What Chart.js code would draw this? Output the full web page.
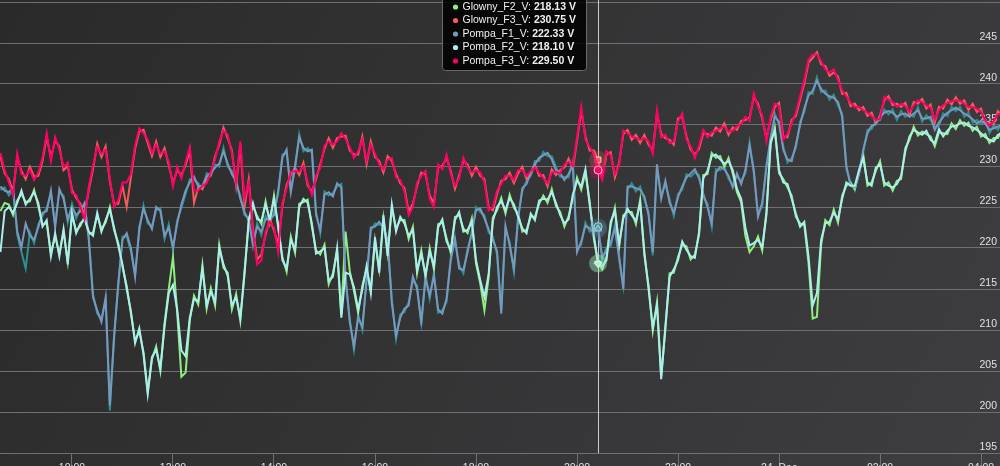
<!DOCTYPE html>
<html><head><meta charset="utf-8">
<script src="https://cdn.jsdelivr.net/npm/chart.js@4.4.1/dist/chart.umd.min.js"></script>
<style>
html,body{margin:0;padding:0;overflow:hidden;background:#333335;width:1000px;height:466px}
canvas{display:block}
</style>
</head><body>
<canvas id="c" width="1000" height="490"></canvas>
<script>
// ---- data ----
const startTime = '08:35';      // first sample
const stepMinutes = 5;          // sample interval
const seriesNames = ['Glowny_F1_V','Glowny_F2_V','Glowny_F3_V','Pompa_F1_V','Pompa_F2_V','Pompa_F3_V'];
const seriesColors = ['#2b908f','#90ee7e','#f45b5b','#7798BF','#aaeeee','#ff0066'];

const glownyF1 = [
 227.1,227.4,226.4,227,221.6,219.5,217.5,221.9,220.6,222.9,
 223.9,224.9,226.6,222.9,226.8,226.4,223.1,225.4,223.6,224.9,
 225.1,221.4,214.4,212,211.4,213.6,200.2,209.4,215.3,221.4,
 221.4,219.6,216.9,222.1,225.2,223,222.7,224.6,224.9,221.1,
 222.9,219.7,223.4,224.9,226.6,228.4,228.3,227.9,227.2,229.1,
 228.8,230.2,229.9,232.2,229.9,229.4,227.8,226.4,224,223.7,
 220.2,223,221.6,223.9,223.1,224.4,226.6,231.4,231.6,227.2,
 229.6,233.9,231.8,232.2,231.6,224.4,221.8,226.9,226.4,226.7,
 227.5,227.8,216.1,211.4,207.6,211.9,210,216.4,222.1,223,
 222.8,222.9,220.6,213.7,208.9,211.9,212.2,213.4,216.1,215.4,
 210.6,216.7,213.8,217,212.1,212.4,213.4,218.9,220.8,217.9,
 216.9,219.9,221.6,225,224.4,224,221.9,221.4,219.2,212.4,
 222.3,220.7,217.1,223.9,226.9,228.2,228.8,230.6,230.6,231.7,
 231.2,231.2,229.9,228.7,228.7,228.6,230.6,219.9,220.4,223.1,
 222,222.3,222.6,218.5,220.1,220.2,222.8,218.6,215.4,227.1,
 227.9,226.9,227.5,225.9,224.4,219.1,229.8,226.4,227.8,225.9,
 223.9,226.6,227.1,229,228.7,229.2,228.9,226.2,225.4,222.6,
 229.6,229.5,230,228.4,227.8,228.7,228.2,229.1,232.9,229.1,
 224.2,225.1,230.2,233.1,236.4,235,232.4,230.4,231,232.2,
 235.4,236.6,239,238.8,240.8,239,239.2,238.1,238.7,237.4,
 236.4,229.6,228,227,229.4,231.6,234.4,234.5,235.5,235.6,
 236.9,236.3,236.9,235.6,236.7,236,236.4,236,237.2,235.4,
 236.2,235.6,234.8,234.9,236.4,236.1,237.2,236.7,237.2,236,
 236.5,235.3,235.6,235.1,235.6,234,235,234.4,235.4,234.6];

const glownyF2 = [
 224.5,225.5,225.3,224,225.8,226.6,225.6,225.7,227.1,225.1,
 222.9,223,219.4,221.4,219.3,222,218.3,224,222.1,222.7,
 223.8,221.7,221.9,224,222.3,223.1,225,222.2,220.6,217.7,
 215.4,212,208.7,209.8,207.3,202.5,206.4,208,205,210.8,
 215,218.9,212.1,204.3,204.8,211.2,214.2,213.1,217.9,212.6,
 215.1,213,220.4,217.6,217,212.5,214.4,211.1,217.2,223.1,
 225.1,223.9,222.9,225.7,223.1,226.4,222.4,218.9,217.1,221.4,
 219.4,225.4,225.6,225.9,222.6,219.7,219.2,220.4,215.6,216.9,
 219.6,211.9,222,217.2,214.8,212.1,215.4,217.4,214.9,220.9,
 217.4,223.6,219.4,224.9,222.4,223.4,223.4,221.1,222.6,216.9,
 219.7,216.4,220,217.4,222.9,223.1,221.2,219.4,223.8,224,
 222.4,221.8,223.6,218.1,215.7,212.4,216.4,223.7,224.6,226.1,
 224.2,226.5,224.9,224.2,222,222.2,223.8,223.8,225.4,226.4,
 225.5,227.2,225.1,224.4,222.6,223.9,226.1,228.6,227.1,229.2,
 225.7,221.1,218.13,217.4,218.9,222.8,224.9,220.1,224,224.4,
 224.4,222.9,225.9,219.1,215.4,209.9,213.4,204.4,210.1,216.9,
 217,218.9,220.4,220.2,218.6,219.2,221.6,228.9,229,231.6,
 231,231.2,229.9,231,229.1,226.8,225.6,221.5,219.5,220.2,
 221.4,219.7,224.4,232.6,234.7,229.1,228.4,227.4,226.4,223.8,
 223,222.8,218.2,211.4,211.6,220.4,223.4,222.8,224.7,223.1,
 226.4,227.6,228,227.2,229.1,231.4,227.6,228,229.4,230.6,
 227.6,228,227,228.2,228.4,232.2,233.2,234.8,233.7,234.2,
 233.9,233.6,232.4,234.1,234,233.9,235.2,234.5,235.6,234.9,
 235.3,234.3,234.8,233.6,233.9,232.8,233.4,233.4,234.4,233.6];

const glownyF3 = [
 231.2,229.1,228.4,226.9,231.1,229.4,228.4,229.9,228.7,228.8,
 230.6,233.6,231,233.1,232.4,229.5,230,227.1,226.1,225.4,
 224,227.1,229.6,232.7,231.1,232.4,228.1,225.4,225.4,227.6,
 225,228.6,232.1,234.2,234.4,232.8,231.2,233,231.1,232.2,
 230.1,227.9,229.5,228.9,230.1,231.9,225.5,227.4,227.2,228.3,
 228.9,231.2,232.6,234.7,233.4,231.9,227.6,232.6,225,228.4,
 222.4,218.6,219.2,221.6,223.6,222.1,220.5,225.1,227.7,228.9,
 229.8,228.9,230.4,227.6,226.9,228.4,230.2,232.1,233.4,232.2,
 233.4,233.6,233.7,231.9,231.4,231.4,233.6,230.2,233,231.1,
 230.6,229.2,231.2,230.6,229,227.9,227.3,224.4,225.4,227.6,
 229.2,229,226.4,225.4,229.8,230,231,229.4,227.2,228.9,
 230.6,230.2,228.8,229.9,228.8,228.4,225,224.6,226.6,228.2,
 228.4,229.2,227.9,229.1,229.9,228.4,229,230.2,228.8,228.9,
 227.5,229.6,228.9,229.5,229.8,230.9,229.6,233.1,236.8,233.6,
 231.9,231.9,230.75,228.7,231.4,231.7,228.6,230.4,233.9,234.4,
 233.2,233.8,232.8,233.8,232.6,231.9,236.4,233.9,233.4,233.2,
 232.6,235.8,236,233.6,232,231.4,232.1,234,233.9,233.7,
 234.7,234.2,235.2,233.8,234.7,234.4,235.5,235.6,235.9,238.4,
 237.6,235.8,233.4,235.6,237.2,237.7,233.6,233.5,235.6,236.1,
 238.1,240.1,242.6,243.2,243.9,242.4,242.2,241,241.4,240.9,
 238.8,238.9,237.3,237.6,236.8,237.2,236.1,236.5,235.2,236.2,
 238,238.5,237.4,237.6,237.2,237.7,236.2,237.8,237.6,238.2,
 237,237.5,235.3,237.2,237,238.1,237.5,238.4,237.6,238,
 236.8,237.6,236.6,237,235.2,235.3,235.1,236.7,236.1,236.4];

const pompaF1 = [
 227.5,227,226.8,227.4,222,220.1,223,221.5,221,222.5,
 224.3,224.5,227,222.5,227.2,226,223.5,225,224,224.5,
 225.5,221,214,212.4,211,214,200.8,209,215.7,221,
 221.8,220,216.5,222.5,224.8,223.4,222.3,225,224.5,221.5,
 222.5,220.1,223,225.3,227,228,228.7,227.5,227.6,228.7,
 229.2,229.8,230.3,231.8,230.3,229,228.2,226,224.4,223.3,
 220.6,222.6,222,223.5,223.5,224,227,231,232,226.8,
 230,233.5,232.2,231.8,232,224,222.2,226.5,226.8,226.3,
 227.9,227.4,216.5,211,208,211.5,210.4,216,222.5,222.6,
 223.2,222.5,221,213.3,209.3,211.5,212.6,213,216.5,215,
 211,216.3,214.2,216.6,212.5,212,213.8,218.5,221.2,217.5,
 217.3,219.5,222,224.6,224.8,223.6,222.3,221,219.6,212,
 222.7,220.3,217.5,223.5,227.3,227.8,229.2,230.2,231,231.3,
 231.6,230.8,229.5,229.1,228.3,229,230.2,219.5,220.8,222.7,
 222.4,221.9,222.33,218.9,219.7,220.6,222.4,219,215,227.5,
 227.5,227.3,227.1,226.3,224,219.5,230.2,226,228.2,225.5,
 224.3,226.2,227.5,228.6,229.1,229.6,228.5,226.6,225,223,
 229.2,229.9,229.6,228.8,227.4,229.1,227.8,229.5,232.5,229.5,
 223.8,225.5,229.8,233.5,236,235.4,232,230.8,230.6,232.6,
 235,237,238.6,239.2,240.4,239.4,238.8,238.5,238.3,237.8,
 236,230,227.6,227.4,229,232,234,234.9,235.1,236,
 236.5,236.7,236.5,236,236.3,236.4,236,236.4,236.8,235.8,
 235.8,236,234.4,235.3,236,236.5,236.8,237.1,236.8,236.4,
 236.1,235.7,235.2,235.5,235.2,234.4,234.6,234.8,235,235];

const pompaF2 = [
 219.5,224.5,225,224.3,225.5,227,225.3,226,226.8,225.5,
 222.6,223.4,219,221.8,219,222.3,218,224.3,221.8,223,
 223.5,222,221.5,224.3,222,223.4,224.7,222.5,220.3,218,
 215,212.3,208.4,210.2,207,202.2,206.7,207.6,205.3,210.5,
 214.5,215.5,212.5,207.5,206.8,211.5,213.8,213.5,217.5,213,
 214.7,213.4,220,218,216.6,213,214,211.5,216.8,223.5,
 225.5,223.5,223.3,225.3,223.5,226,222.8,218.5,217.5,221,
 219.8,225,226,225.5,223,219.3,219.6,220,216,216.5,
 220,211.5,217,216.8,215.2,212.5,215,217.8,214.5,221.3,
 217,224,219,225.3,222,223.8,223,221.5,222.2,217.3,
 219.3,216.8,219.6,217.8,222.5,223.5,220.8,219.8,223.4,224.4,
 222,222.2,223.2,218.5,216.1,214,216.8,223.3,225,225.7,
 224.6,226.1,225.3,223.8,222.4,221.8,224.2,223.4,225.8,226,
 225.9,226.8,225.5,224,223,223.5,226.5,228.2,227.5,229.6,
 225.3,221.5,218.1,217.8,218.5,223.2,224.5,220.5,223.6,224.8,
 224,223.3,225.5,219.5,215,210.3,213,204,210.5,216.5,
 217.4,218.5,220.8,219.8,219,218.8,222,228.5,229.4,231.2,
 231.4,230.8,230.3,230.6,229.5,227.2,226,222.5,220.3,220.6,
 221,220.1,224,233,234.3,229.5,228,227.8,226,224.2,
 222.6,223.2,219,213,214.5,221,223,223.2,224.3,223.5,
 226,228,227.6,227.6,229.5,231,228,227.6,229.8,230.2,
 228,227.6,227.4,227.8,228.8,231.8,233.6,234.4,234.1,233.8,
 234.3,233.2,232.8,234.5,233.6,234.3,234.8,234.9,235.2,235.3,
 234.9,234.7,234.4,234,233.5,233.2,233,233.8,234,234];

const pompaF3 = [
 231.6,229.5,228,226.5,231.5,229,228.8,229.5,228.3,229.2,
 231,234,230.6,233.5,232,229.9,230.4,226.7,226.5,225,
 223.5,227.5,230,232.3,231.5,232,228.5,225,225.8,228,
 228,229,232.5,234.6,234,233.2,231.6,232.6,231.5,231.8,
 230.5,227.5,229.9,228.5,230.5,232.3,227,227,227.6,227.9,
 229.3,230.8,233,234.3,233.8,231.5,228,233,226,228,
 222,218,218.5,222,223.2,222.5,219.5,225.5,227.3,229.3,
 229.4,229.3,230,228,226.5,228.8,229.8,232.5,233,232.6,
 233,234,233.3,232.3,231,231.8,233.2,230.6,232.6,231.5,
 230.2,229.6,230.8,231,228.6,228.3,226.9,224,225,228,
 228.8,229.4,226,225,230.2,229.6,231.4,229,227.6,228.5,
 231,229.8,229.2,229.5,229.2,228,224.6,225,227,227.8,
 228.8,228.8,228.3,229.5,229.5,228.8,229.4,229.8,229.2,228.5,
 227.9,229.2,229.3,229.1,230.2,230.5,230,233.5,237.2,233.2,
 232.3,231.5,229.5,228.3,231.8,231.3,229,230,234.3,234,
 233.6,233.4,233.2,233.4,233,231.5,236.8,233.5,233.8,232.8,
 233,235.4,236.4,233.2,232.4,231,232.5,234.4,233.5,234.1,
 234.3,234.6,234.8,234.2,234.3,234.8,235.1,236,235.5,238.8,
 237.2,236.2,233,236,237.6,237.3,233.2,233.9,235.2,236.5,
 238.5,240.5,243,243.6,243.6,242.8,241.8,241.4,241.8,240.5,
 239.2,238.5,237.7,237.2,237.2,236.8,236.5,236.1,235.6,235.8,
 238.4,238.1,237.8,237.2,237.6,237.3,236.6,237.4,238,237.8,
 237.4,237.1,235.7,236.8,237.4,237.7,237.9,238,238,237.6,
 237.2,237.2,237,236.6,235.6,234.9,235.5,236.3,236.5,236];

const tooltipSeries = ['Glowny_F2_V','Glowny_F3_V','Pompa_F1_V','Pompa_F2_V','Pompa_F3_V'];
const valueSuffix = ' V';
const hoverIndex = 142;  // sample under the crosshair (20:25)

const xTickTimes  = ['10:00','12:00','14:00','16:00','18:00','20:00','22:00','24:00','26:00','28:00'];
const xTickLabels = ['10:00','12:00','14:00','16:00','18:00','20:00','22:00','24. Dec','02:00','04:00'];
const yTickValues = [195,200,205,210,215,220,225,230,235,240,245,250];
const yTickLabels = ['195','200','205','210','215','220','225','230','235','240','245',''];
const viewStart = '08:34';   // + 0.5 min
const viewEnd   = '28:22';   // + 0.5 min

// ---- helpers ----
function toMinutes(s){ const p = s.split(':'); return Number(p[0])*60 + Number(p[1]) - 600; }
const t0 = toMinutes(startTime);
const times = pompaF3.map((_, i) => t0 + i * stepMinutes);
const seriesData = [glownyF1, glownyF2, glownyF3, pompaF1, pompaF2, pompaF3];
const pointStyles = ['circle','rectRot','rect','triangle','triangle','circle'];
const pointRotations = [0,0,0,0,180,0];
const FONT = "'Liberation Sans', Arial, Helvetica, sans-serif";

const datasets = seriesData.map((arr, i) => ({
  label: seriesNames[i],
  data: arr.map((v, j) => ({x: times[j], y: v})),
  borderColor: seriesColors[i],
  backgroundColor: seriesColors[i],
  borderWidth: 2,
  tension: 0,
  fill: false,
  pointRadius: ctx => ctx.dataIndex === hoverIndex ? 4 : 0,
  pointHoverRadius: 0,
  pointStyle: pointStyles[i],
  pointRotation: pointRotations[i],
  pointBackgroundColor: seriesColors[i],
  pointBorderColor: '#ffffff',
  pointBorderWidth: 1,
  order: seriesData.length - 1 - i
}));

const bgPlugin = {
  id: 'bg',
  beforeDraw(chart){
    const c = chart.ctx;
    const g = c.createLinearGradient(0, 0, 1000, 466);
    g.addColorStop(0, '#2a2a2b');
    g.addColorStop(1, '#3e3e40');
    c.save(); c.fillStyle = g; c.fillRect(0, 0, chart.width, chart.height); c.restore();
  }
};

const crossPlugin = {
  id: 'cross',
  beforeDatasetsDraw(chart){
    const c = chart.ctx, xs = chart.scales.x;
    const x = Math.round(xs.getPixelForValue(times[hoverIndex])) + 0.5;
    c.save(); c.strokeStyle = '#cccccc'; c.lineWidth = 1;
    c.beginPath(); c.moveTo(x, 0); c.lineTo(x, chart.chartArea.bottom); c.stroke(); c.restore();
  },
  afterDatasetsDraw(chart){
    const c = chart.ctx;
    c.save();
    chart.data.datasets.forEach((ds, i) => {
      const el = chart.getDatasetMeta(i).data[hoverIndex];
      if (!el) return;
      c.globalAlpha = 0.25; c.fillStyle = seriesColors[i];
      c.beginPath(); c.arc(el.x, el.y, 9, 0, Math.PI * 2); c.fill();
    });
    c.restore();
  }
};

const tipPlugin = {
  id: 'tip',
  afterDraw(chart){
    const c = chart.ctx, xs = chart.scales.x;
    const cx = xs.getPixelForValue(times[hoverIndex]);
    const right = Math.round(cx) - 11.5, left = right - 144;
    const top = -20, bottom = 70.5;
    c.save();
    c.fillStyle = 'rgba(0,0,0,0.85)';
    c.strokeStyle = '#5f6f6f'; c.lineWidth = 1;
    c.beginPath();
    if (c.roundRect) c.roundRect(left, top, right - left, bottom - top, 3); else c.rect(left, top, right - left, bottom - top);
    c.fill(); c.stroke();
    c.textBaseline = 'middle';
    tooltipSeries.forEach((name, n) => {
      const i = seriesNames.indexOf(name);
      const y = 7 + n * 13.5;
      c.fillStyle = seriesColors[i];
      c.beginPath(); c.arc(left + 13, y, 2.6, 0, Math.PI * 2); c.fill();
      c.fillStyle = '#F0F0F0';
      c.font = '10.5px ' + FONT;
      const lbl = name + ': ';
      c.fillText(lbl, left + 20, y);
      const w = c.measureText(lbl).width;
      c.font = 'bold 10.5px ' + FONT;
      c.fillText(seriesData[i][hoverIndex].toFixed(2) + valueSuffix, left + 20 + w, y);
    });
    c.restore();
  }
};

new Chart(document.getElementById('c'), {
  type: 'line',
  data: { datasets },
  options: {
    responsive: false,
    animation: false,
    devicePixelRatio: 1,
    events: [],
    layout: { padding: { top: 2, left: 0, right: 0, bottom: 0 } },
    plugins: { legend: { display: false }, tooltip: { enabled: false } },
    scales: {
      x: {
        type: 'linear',
        min: toMinutes(viewStart) + 0.5,
        max: toMinutes(viewEnd) + 0.5,
        afterBuildTicks: s => { s.ticks = xTickTimes.map(t => ({ value: toMinutes(t) })); },
        afterFit: s => { s.height = 37; s.paddingLeft = 0; s.paddingRight = 0; },
        grid: { display: true, drawOnChartArea: false, drawTicks: true, tickLength: 12, color: '#707073', lineWidth: 1 },
        border: { display: true, color: '#707073', width: 1 },
        ticks: {
          autoSkip: false, maxRotation: 0, padding: -3,
          color: '#E0E0E3', font: { family: FONT, size: 10.5 },
          callback: (v) => { const k = xTickTimes.findIndex(t => toMinutes(t) === v); return k >= 0 ? xTickLabels[k] : ''; }
        }
      },
      y: {
        type: 'linear',
        position: 'right',
        min: yTickValues[0],
        max: yTickValues[yTickValues.length - 1],
        afterBuildTicks: s => { s.ticks = yTickValues.map(v => ({ value: v })); },
        afterFit: s => { s.width = 0; s.paddingTop = 0; s.paddingBottom = 0; },
        grid: { color: '#707073', lineWidth: 1, drawTicks: false },
        border: { display: false },
        ticks: {
          mirror: true, padding: -3, labelOffset: -6,
          color: '#E0E0E3', font: { family: FONT, size: 10.5 },
          callback: (v) => { const k = yTickValues.indexOf(v); return k >= 0 ? yTickLabels[k] : ''; }
        }
      }
    }
  },
  plugins: [bgPlugin, crossPlugin, tipPlugin]
});
</script>
</body></html>
